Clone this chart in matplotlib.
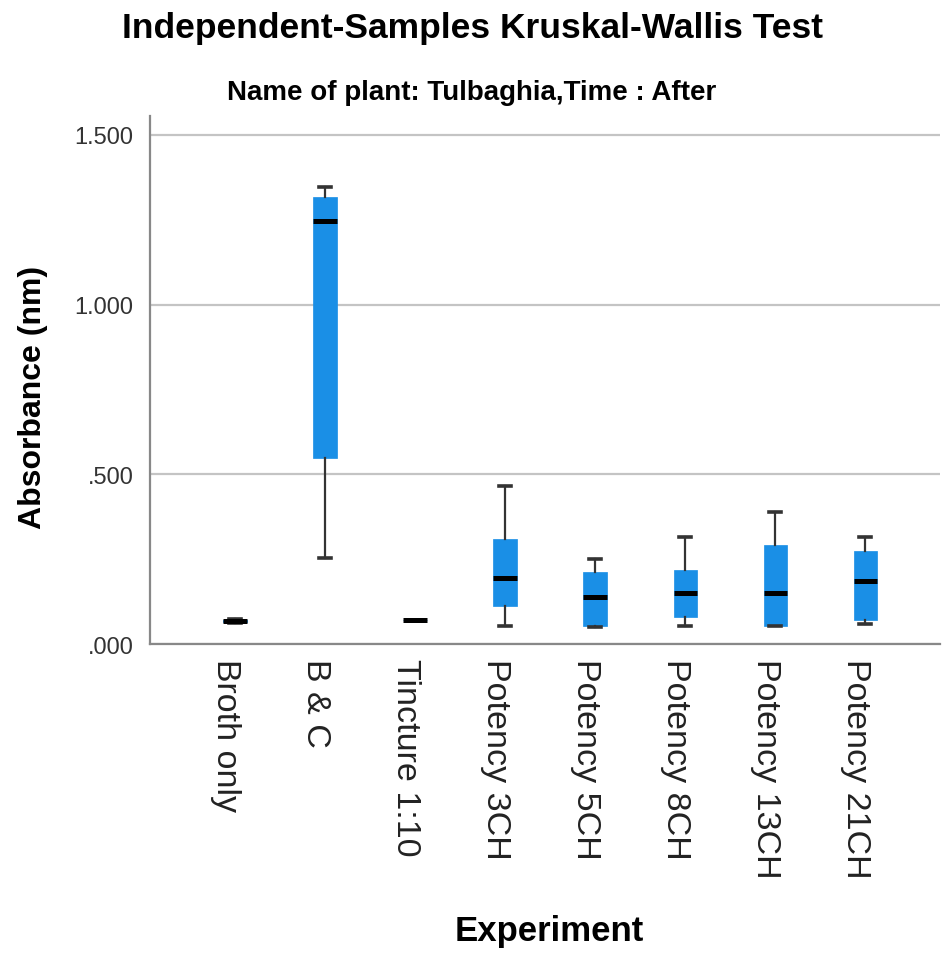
import matplotlib
matplotlib.use("Agg")
import matplotlib.pyplot as plt
import matplotlib.transforms as mtransforms

# Absorbance summary per experiment group (Tulbaghia, after)
groups = ["Broth only", "B & C", "Tincture 1:10", "Potency 3CH",
          "Potency 5CH", "Potency 8CH", "Potency 13CH", "Potency 21CH"]
whislo = [0.063, 0.253, 0.070, 0.052, 0.051, 0.052, 0.052, 0.059]
q1 = [0.065, 0.548, 0.070, 0.113, 0.054, 0.080, 0.054, 0.071]
med = [0.068, 1.247, 0.071, 0.194, 0.138, 0.150, 0.150, 0.185]
q3 = [0.072, 1.317, 0.072, 0.309, 0.211, 0.219, 0.292, 0.274]
whishi = [0.074, 1.347, 0.072, 0.465, 0.250, 0.316, 0.390, 0.314]

yticks = [0.0, 0.5, 1.0, 1.5]
ytick_labels = [".000", ".500", "1.000", "1.500"]

plt.rcParams['font.family'] = ['Liberation Sans', 'DejaVu Sans']

fig = plt.figure(figsize=(9.44, 9.62), dpi=100)
ax = fig.add_axes([0.1589, 0.3295, 0.8369, 0.5489])

stats = []
for i, g in enumerate(groups):
    stats.append(dict(label=g, whislo=whislo[i], q1=q1[i], med=med[i],
                      q3=q3[i], whishi=whishi[i], fliers=[]))

ax.bxp(stats, positions=range(len(groups)), widths=0.26, capwidths=0.13,
       patch_artist=True, showfliers=False,
       boxprops=dict(facecolor="#1a8fe6", edgecolor="#1a8fe6", linewidth=0.5),
       medianprops=dict(color="black", linewidth=3.6),
       whiskerprops=dict(color="#333333", linewidth=1.6),
       capprops=dict(color="#333333", linewidth=2.6))

ax.set_xlim(-0.944, 7.83)
ax.set_ylim(0, 1.556)
ax.set_yticks(yticks)
ax.set_yticklabels(ytick_labels, fontsize=17, color="#333333")
ax.set_xticks(range(len(groups)))
ax.set_xticklabels(groups, rotation=-90, fontsize=24.5, color="#222222",
                   va="top", ha="center")
ax.tick_params(axis="both", length=0)
ax.tick_params(axis="x", pad=10)
ax.tick_params(axis="y", pad=12)

# nudge the rotated category labels a little to the left
shift = mtransforms.ScaledTranslation(-10 / 100, 0, fig.dpi_scale_trans)
for lbl in ax.get_xticklabels():
    lbl.set_transform(lbl.get_transform() + shift)

ax.yaxis.grid(True, color="#c4c4c4", linewidth=1.6)
ax.set_axisbelow(True)
for s in ["top", "right"]:
    ax.spines[s].set_visible(False)
for s in ["left", "bottom"]:
    ax.spines[s].set_color("#888888")
    ax.spines[s].set_linewidth(1.6)

ax.set_ylabel("Absorbance (nm)", fontsize=23, fontweight="bold")
ax.yaxis.set_label_coords(-0.129, 0.468)
fig.text(0.582, 0.022, "Experiment", fontsize=25, fontweight="bold",
         ha="center", va="baseline")

fig.text(0.5, 0.961, "Independent-Samples Kruskal-Wallis Test", fontsize=25.5,
         fontweight="bold", ha="center", va="baseline")
fig.text(0.5, 0.896, "Name of plant: Tulbaghia,Time : After", fontsize=20,
         fontweight="bold", ha="center", va="baseline")

fig.savefig("out.png", dpi=100, facecolor="white")
